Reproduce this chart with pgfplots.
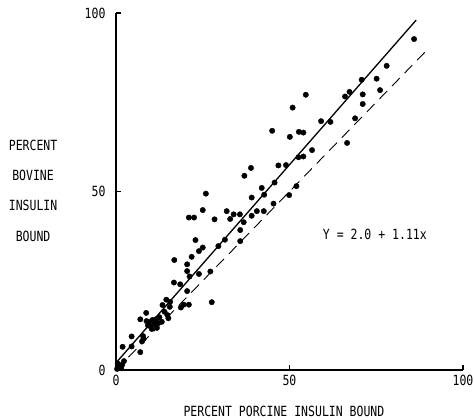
\documentclass[border=0pt]{standalone}
\usepackage{fontspec}
\setmainfont{DejaVu Sans Mono}
\usepackage{pgfplots}
\pgfplotsset{compat=1.18}
\newcommand{\tall}[1]{\scalebox{1.0}[1.22]{#1}}

\begin{document}
\begin{tikzpicture}
\useasboundingbox (-116pt,-50pt) rectangle (358pt,370pt);
\begin{axis}[
  at={(0pt,0pt)}, anchor=south west,
  x=3.47pt, y=3.57pt,
  xmin=0, xmax=100, ymin=0, ymax=100,
  axis lines=left,
  axis line style={-, line width=1.2pt},
  tick align=inside,
  major tick length=5pt,
  tick style={black, line width=1.2pt},
  xtick={0,50,100}, ytick={0,50,100},
  ticklabel style={font=\fontsize{11.5}{13}\selectfont},
  xticklabel={\tall{\pgfmathprintnumber{\tick}}},
  yticklabel={\tall{\pgfmathprintnumber{\tick}}},
  yticklabel style={xshift=-7pt},
  xticklabel style={yshift=-2pt},
  /pgf/number format/assume math mode=true,
  clip=false,
]
  % measurements
  \addplot[only marks, mark=*, mark size=2.7pt, black] coordinates {
    (85.9,92.7) (78.0,85.2) (70.8,81.3) (75.1,81.6) (76.1,78.4)
    (71.1,77.2) (67.3,77.9) (66.0,76.6) (71.1,74.5) (68.9,70.5)
    (54.7,77.1) (50.9,73.5) (59.1,69.7) (61.8,69.5) (45.0,67.0)
    (52.7,66.7) (54.0,66.5) (50.1,65.3) (66.6,63.6) (56.5,61.6)
    (52.6,59.6) (54.0,59.8) (46.8,57.3) (49.0,57.4) (45.7,52.5)
    (52.0,51.5) (49.9,49.0) (45.4,46.6) (38.9,56.6) (37.0,54.4)
    (42.0,51.0) (42.7,49.1) (39.1,48.3) (25.9,49.4) (40.6,44.5)
    (42.6,44.5) (39.1,43.2) (31.9,44.5) (33.9,43.6) (35.7,43.6)
    (32.9,42.3) (25.0,44.8) (28.4,42.2) (21.0,42.7) (22.5,42.7)
    (36.8,41.4) (35.8,39.2) (35.8,36.1) (31.4,36.5) (29.5,34.7)
    (22.9,36.4) (23.9,33.3) (25.0,34.3) (21.8,31.7) (16.8,30.8)
    (20.5,29.6) (20.5,27.7) (21.2,26.2) (23.9,26.9) (27.2,27.6)
    (16.7,24.5) (18.5,24.0) (20.5,22.1) (27.6,19.0) (19.5,18.3)
    (21.0,18.3) (18.7,17.5) (14.5,19.7) (15.6,19.1) (13.4,18.2)
    (15.5,17.7) (14.0,16.3) (8.7,16.0) (14.8,15.4) (7.0,14.2)
    (8.8,13.7) (9.5,13.5) (10.5,14.0) (11.5,14.2) (12.5,14.8)
    (9.2,12.5) (10.0,12.2) (11.0,12.8) (12.0,13.2) (13.2,13.5)
    (10.3,11.5) (11.8,11.8) (15.1,14.5) (7.8,9.5) (4.5,9.4)
    (7.9,8.7) (7.5,8.0) (4.5,6.6) (1.9,6.5) (7.0,5.0)
    (0.3,0.3) (0.8,1.0) (1.5,0.5) (0.5,1.8) (1.8,1.5) (2.3,2.5)
  };
  % regression line Y = 2.0 + 1.11x
  \addplot[black, line width=1.3pt] coordinates {(0,2.0) (86.5,98.0)};
  % line of identity
  \addplot[black, line width=0.9pt, dash pattern=on 11pt off 7pt] coordinates {(0,0) (90,90)};

  \node[font=\fontsize{11.5}{13}\selectfont] at (axis cs:74.6,38.1) {\tall{Y = 2.0 + 1.11x}};
  \node[font=\fontsize{11.5}{13}\selectfont] at (axis cs:48.4,-11.5) {\tall{PERCENT PORCINE INSULIN BOUND}};
  \node[font=\fontsize{11.5}{13}\selectfont] at (axis cs:-23.9,63.0) {\tall{PERCENT}};
  \node[font=\fontsize{11.5}{13}\selectfont] at (axis cs:-23.9,54.6) {\tall{BOVINE}};
  \node[font=\fontsize{11.5}{13}\selectfont] at (axis cs:-23.9,46.2) {\tall{INSULIN}};
  \node[font=\fontsize{11.5}{13}\selectfont] at (axis cs:-23.9,37.5) {\tall{BOUND}};
\end{axis}
\end{tikzpicture}
\end{document}
